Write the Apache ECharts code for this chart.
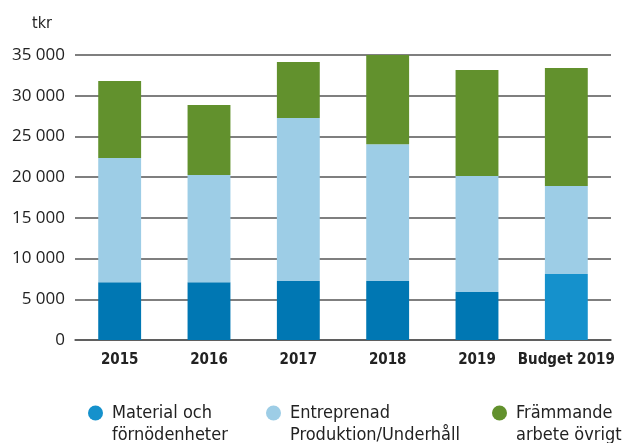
<!DOCTYPE html>
<html>
<head>
<meta charset="utf-8">
<script src="https://cdn.jsdelivr.net/npm/echarts@6/dist/echarts.min.js"></script>
<style>
  html, body { margin: 0; padding: 0; background: #fff; }
  #chart { width: 622px; height: 443px; }
</style>
</head>
<body>
<div id="chart"></div>
<script>
const categories = ['2015', '2016', '2017', '2018', '2019', 'Budget 2019']
const material = [7100, 7100, 7250, 7250, 5900, 8100]
const entreprenad = [15250, 13150, 20000, 16800, 14250, 10800]
const frammande = [9450, 8600, 6900, 10950, 13000, 14500]
const yTicks = [0, 5000, 10000, 15000, 20000, 25000, 30000, 35000]

const names = ['Material och\nförnödenheter', 'Entreprenad\nProduktion/Underhåll', 'Främmande\narbete övrigt']
const condensed = '"DejaVu Sans Condensed", "DejaVu Sans", sans-serif'
const plain = '"Open Sans", "DejaVu Sans", sans-serif'

const chart = echarts.init(document.getElementById('chart'))

function fmt(v) {
  return String(v).replace(/\B(?=(\d{3})+(?!\d))/g, ' ')
}

// empty first line so the circle sits level with the first text line
function legendAt(left, i, color) {
  return {
    left: left,
    top: 375,
    icon: 'circle',
    itemWidth: 15,
    itemHeight: 15,
    itemGap: 0,
    data: [{ name: names[i], itemStyle: { color: color } }],
    formatter: n => '\n' + n,
    textStyle: { fontFamily: condensed, fontSize: 18, color: '#222', lineHeight: 22, padding: [0, 0, 0, 4] }
  }
}

chart.setOption({
  animation: false,
  grid: { left: 75, right: 11, top: 55, bottom: 103 },
  legend: [
    legendAt(83, 0, '#1591cc'),
    legendAt(261, 1, '#9dcde6'),
    legendAt(487, 2, '#62912d')
  ],
  xAxis: {
    type: 'category',
    data: categories,
    axisTick: { show: false },
    axisLine: { lineStyle: { color: '#555', width: 1.5 } },
    axisLabel: { interval: 0, fontFamily: condensed, fontWeight: 'bold', fontSize: 15, color: '#222', margin: 13 }
  },
  yAxis: {
    type: 'value',
    min: 0,
    max: 35000,
    interval: 5000,
    name: 'tkr',
    nameLocation: 'end',
    nameGap: 23,
    nameTextStyle: { fontFamily: condensed, fontSize: 16, color: '#222', align: 'right', padding: [0, 23, 0, 0] },
    axisLine: { show: false },
    axisTick: { show: false },
    axisLabel: {
      fontFamily: plain, fontSize: 17, color: '#222', margin: 10,
      formatter: v => yTicks.includes(v) ? fmt(v) : ''
    },
    splitLine: { lineStyle: { color: '#555', width: 1.5 } }
  },
  series: [
    {
      name: names[0], type: 'bar', stack: 'a', barWidth: '48%',
      itemStyle: { color: '#0077b3' },
      data: material.map((v, i) => i === 5 ? { value: v, itemStyle: { color: '#1591cc' } } : v)
    },
    {
      name: names[1], type: 'bar', stack: 'a', barWidth: '48%',
      itemStyle: { color: '#9dcde6' },
      data: entreprenad
    },
    {
      name: names[2], type: 'bar', stack: 'a', barWidth: '48%',
      itemStyle: { color: '#62912d' },
      data: frammande
    }
  ]
})
</script>
</body>
</html>
